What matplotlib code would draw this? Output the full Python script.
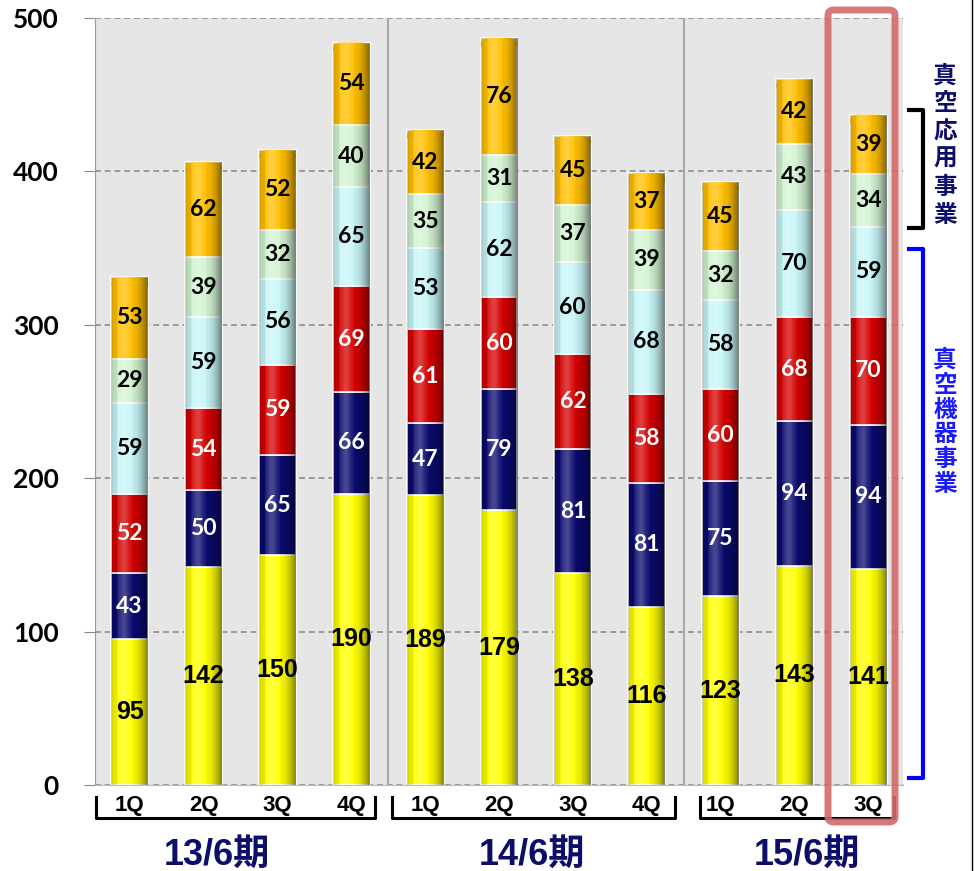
import numpy as np
import matplotlib
matplotlib.use("Agg")
from matplotlib import pyplot as plt
from matplotlib.patches import FancyBboxPatch
from matplotlib.lines import Line2D

# Chart data
quarters = ["1Q", "2Q", "3Q", "4Q", "1Q", "2Q", "3Q", "4Q", "1Q", "2Q", "3Q"]
periods = ["13/6期", "14/6期", "15/6期"]
yellow = [95, 142, 150, 190, 189, 179, 138, 116, 123, 143, 141]
navy = [43, 50, 65, 66, 47, 79, 81, 81, 75, 94, 94]
red = [52, 54, 59, 69, 61, 60, 62, 58, 60, 68, 70]
cyan = [59, 59, 56, 65, 53, 62, 60, 68, 58, 70, 59]
green = [29, 39, 32, 40, 35, 31, 37, 39, 32, 43, 34]
orange = [53, 62, 52, 54, 42, 76, 45, 37, 45, 42, 39]
yticks = [0, 100, 200, 300, 400, 500]

series = [yellow, navy, red, cyan, green, orange]
colors = ["#ffff00", "#0a0a6e", "#d40000", "#c8f6f8", "#d2f4d2", "#ffbf00"]
text_colors = ["black", "white", "white", "black", "black", "black"]

num_font = ["Lato", "DejaVu Sans"]
arial = ["Liberation Sans", "DejaVu Sans"]
jp_font = ["Liberation Sans", "Noto Sans CJK JP"]

fig = plt.figure(figsize=(9.74, 8.71), dpi=100)
ax = fig.add_axes([95 / 974, 86 / 871, 808 / 974, 767 / 871])
ax.set_facecolor("#e6e6e6")

x = np.arange(len(quarters))
width = 0.5

# cylinder shading overlay (dark edges, light highlight left of centre)
u = np.linspace(0, 1, 64)
shade = np.zeros((1, 64, 4))
dark = np.clip(np.abs(u - 0.4) / 0.6, 0, 1) ** 2.5 * 0.5
light = np.exp(-((u - 0.35) / 0.15) ** 2) * 0.25
shade[0, :, 3] = dark + light
shade[0, :, 0] = np.where(light > dark, 1, 0)
shade[0, :, 1] = shade[0, :, 0]
shade[0, :, 2] = shade[0, :, 0]

bottom = np.zeros(len(quarters))
for k, (vals, col, tc) in enumerate(zip(series, colors, text_colors)):
    vals = np.array(vals)
    bars = ax.bar(x, vals, width, bottom=bottom, color=col, edgecolor="white",
                  linewidth=1.2, zorder=3)
    for i, b in enumerate(bars):
        im = ax.imshow(shade, extent=(b.get_x(), b.get_x() + width, bottom[i], bottom[i] + vals[i]),
                       aspect="auto", zorder=4, interpolation="bilinear")
        im.set_clip_path(b)
        if k == 0:
            ax.text(x[i], bottom[i] + vals[i] / 2, str(vals[i]), ha="center", va="center",
                    color=tc, fontsize=18, fontweight="bold", family=arial, zorder=6)
        else:
            ax.text(x[i], bottom[i] + vals[i] / 2, str(vals[i]), ha="center", va="center",
                    color=tc, fontsize=16.5, fontweight="bold", family=num_font, zorder=6)
    bottom = bottom + vals

# rounded cylinder caps on the top segment
for i in range(len(quarters)):
    cap = FancyBboxPatch((x[i] - width / 2, bottom[i] - 8), width, 8,
                         boxstyle="round,pad=0,rounding_size=0.12", mutation_aspect=40,
                         facecolor=colors[-1], edgecolor="none", zorder=3)
    ax.add_patch(cap)

ax.set_xlim(-0.47, 10.47)
ax.set_ylim(0, 500)
ax.set_yticks(yticks)
ax.set_yticklabels([str(v) for v in yticks], fontsize=19, fontweight="bold", family=num_font)
ax.tick_params(axis="y", length=8, color="#888888", pad=18)
ax.set_xticks([])
ax.yaxis.grid(True, linestyle=(0, (3, 2)), color="#999999", linewidth=1.4, zorder=1)
for s in ["top", "right"]:
    ax.spines[s].set_visible(False)
ax.spines["left"].set_color("#999999")
ax.spines["bottom"].set_color("#bbbbbb")
for sep in [3.5, 7.5]:
    ax.axvline(sep, color="#aaaaaa", linewidth=1.5, zorder=2)

# quarter labels below the axis
for i, q in enumerate(quarters):
    ax.text(x[i], -13.5, q, ha="center", va="center", fontsize=16, fontweight="bold",
            family=jp_font, clip_on=False)

# group brackets and period labels
def px(xp, yp):
    return xp / 974, 1 - yp / 871

groups = [(96, 375), (392, 675), (700, 894)]
for (x0, x1), lab in zip(groups, periods):
    xs = [x0, x0, x1, x1]
    ys = [797, 818, 818, 797]
    fx, fy = zip(*[px(a, b) for a, b in zip(xs, ys)])
    fig.add_artist(Line2D(fx, fy, color="black", linewidth=2.2, transform=fig.transFigure))
centers = [217, 532, 807]
for cx, lab in zip(centers, periods):
    fig.text(*px(cx, 855), lab, ha="center", va="center", fontsize=26, fontweight="bold",
             color="#0d0d6b", family=jp_font)

# right side business brackets
for (y0, y1, col) in [(110, 228, "black"), (249, 778, "#0000ff")]:
    xs = [909, 923, 923, 909]
    ys = [y0, y0, y1, y1]
    fx, fy = zip(*[px(a, b) for a, b in zip(xs, ys)])
    fig.add_artist(Line2D(fx, fy, color=col, linewidth=3, transform=fig.transFigure))

fig.text(*px(945, 145), "\n".join("真空応用事業"), ha="center", va="center", fontsize=17,
         fontweight="bold", color="#0d0d6b", family=["Noto Sans CJK JP"], linespacing=1.2)
fig.text(*px(945, 422), "\n".join("真空機器事業"), ha="center", va="center", fontsize=17,
         fontweight="bold", color="#1a1aff", family=["Noto Sans CJK JP"], linespacing=1.05)

# highlight box around the latest quarter
hl = FancyBboxPatch(px(828, 822), 67 / 974, 812 / 871, boxstyle="round,pad=0,rounding_size=0.006",
                    transform=fig.transFigure, facecolor="none", edgecolor="#d46a6a",
                    linewidth=5, alpha=0.9, zorder=10)
fig.add_artist(hl)

# right border line
fig.add_artist(Line2D([972 / 974, 972 / 974], [0, 1], color="black", linewidth=1,
                      transform=fig.transFigure))

fig.savefig("out.png", dpi=100)
